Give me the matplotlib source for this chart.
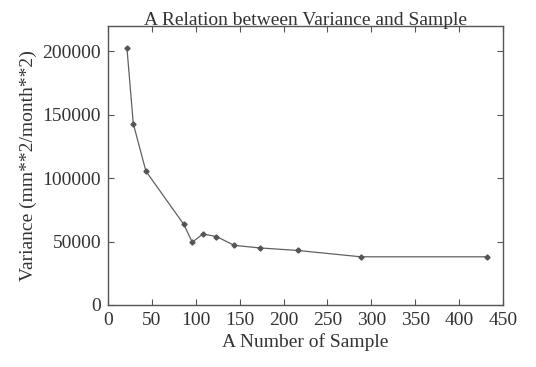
import matplotlib.pyplot as plt

# sample counts and variance
samples = [21.6, 28.8, 43.2, 86.4, 96, 108, 123.4, 144, 172.8, 216, 288, 432]
variance = [202500, 143000, 105500, 63500, 49500, 56000, 54000, 47000, 45000, 43000, 38000, 38000]
xticks = [0, 50, 100, 150, 200, 250, 300, 350, 400, 450]
yticks = [0, 50000, 100000, 150000, 200000]

plt.rcParams['font.family'] = ['Liberation Serif', 'DejaVu Serif']
grey = '#555555'
textc = '#333333'

fig = plt.figure(figsize=(5.36, 3.67), dpi=100)
ax = fig.add_axes([0.2015, 0.169, 0.737, 0.76])

ax.plot(samples, variance, color='#606060', linewidth=0.9, marker='D', markersize=2.6,
        markerfacecolor=grey, markeredgecolor=grey)

ax.set_xlim(0, 450)
ax.set_ylim(0, 220000)
ax.set_xticks(xticks)
ax.set_yticks(yticks)
ax.tick_params(direction='in', top=True, right=True, length=4, width=0.8,
               colors=grey, labelcolor=textc, labelsize=14, pad=5)
for s in ax.spines.values():
    s.set_color(grey)
    s.set_linewidth(1.0)

ax.set_title('A Relation between Variance and Sample', fontsize=14, color=textc, pad=0.5)
ax.set_xlabel('A Number of Sample', fontsize=14, color=textc, labelpad=3)
ax.set_ylabel('Variance (mm**2/month**2)', fontsize=14, color=textc, labelpad=4)

fig.savefig('out.png', dpi=100)
